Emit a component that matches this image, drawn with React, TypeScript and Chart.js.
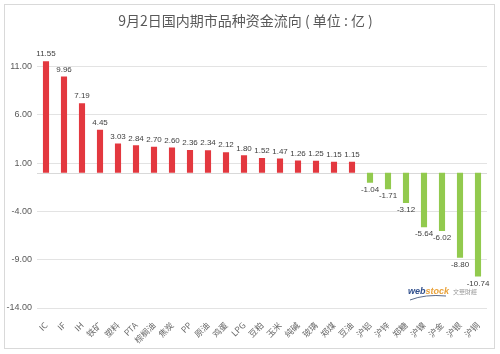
import React, { useEffect, useRef } from "react";
import { Chart, registerables } from "chart.js";

Chart.register(...registerables);

const TITLE = "9月2日国内期市品种资金流向 ( 单位 : 亿 )";
const categories = [
  "IC", "IF", "IH", "铁矿", "塑料", "PTA", "棕榈油", "焦炭", "PP", "原油", "鸡蛋", "LPG",
  "豆粕", "玉米", "纯碱", "玻璃", "郑煤", "豆油", "沪铝", "沪锌", "郑糖", "沪镍", "沪金", "沪银", "沪铜",
];
const values = [
  11.55, 9.96, 7.19, 4.45, 3.03, 2.84, 2.7, 2.6, 2.36, 2.34, 2.12, 1.8,
  1.52, 1.47, 1.26, 1.25, 1.15, 1.15, -1.04, -1.71, -3.12, -5.64, -6.02, -8.8, -10.74,
];
const yTicks = [-14, -9, -4, 1, 6, 11];

const RED = "#E3383F";
const GREEN = "#92CA4E";

export default function App() {
  const ref = useRef<HTMLCanvasElement | null>(null);
  useEffect(() => {
    const canvas = ref.current;
    if (!canvas) return;
    const labelPlugin = {
      id: "labels",
      beforeDatasetsDraw(chart: any) {
        const { ctx, chartArea, scales } = chart;
        const y0 = scales.y.getPixelForValue(0);
        ctx.save();
        ctx.strokeStyle = "#D9D9D9";
        ctx.lineWidth = 1;
        ctx.beginPath();
        ctx.moveTo(chartArea.left, Math.round(y0) + 0.5);
        ctx.lineTo(chartArea.right, Math.round(y0) + 0.5);
        ctx.stroke();
        ctx.restore();
      },
      afterDatasetsDraw(chart: any) {
        const { ctx } = chart;
        const meta = chart.getDatasetMeta(0);
        ctx.save();
        ctx.font = "8px 'Liberation Sans', sans-serif";
        ctx.fillStyle = "#404040";
        ctx.textAlign = "center";
        meta.data.forEach((bar: any, i: number) => {
          const v = values[i];
          const txt = v.toFixed(2);
          if (v >= 0) {
            ctx.textBaseline = "bottom";
            ctx.fillText(txt, bar.x, bar.y - 3);
          } else {
            ctx.textBaseline = "top";
            ctx.fillText(txt, bar.x, bar.y + 3);
          }
        });
        // watermark
        ctx.textAlign = "left";
        ctx.textBaseline = "alphabetic";
        ctx.font = "bold italic 9px 'Liberation Sans', sans-serif";
        ctx.fillStyle = "#2F4E8C";
        ctx.fillText("web", 408, 294);
        const w = ctx.measureText("web").width;
        ctx.fillStyle = "#E9A23B";
        ctx.fillText("stock", 408 + w, 294);
        const w2 = ctx.measureText("stock").width;
        ctx.font = "6px 'Noto Sans CJK SC', sans-serif";
        ctx.fillStyle = "#9A9A9A";
        ctx.fillText("文華財經", 412 + w + w2, 294);
        ctx.strokeStyle = "#5A6A8A";
        ctx.lineWidth = 1;
        ctx.beginPath();
        ctx.moveTo(410, 300);
        ctx.quadraticCurveTo(425, 294, 446, 296);
        ctx.stroke();
        ctx.restore();
      },
    };
    const chart = new Chart(canvas, {
      type: "bar",
      data: {
        labels: categories,
        datasets: [
          {
            data: values,
            backgroundColor: values.map((v) => (v >= 0 ? RED : GREEN)),
            barPercentage: 0.34,
            categoryPercentage: 1,
          },
        ],
      },
      options: {
        animation: false,
        responsive: false,
        maintainAspectRatio: false,
        layout: { padding: { left: 4, right: 13, top: 0, bottom: 4 } },
        plugins: {
          legend: { display: false },
          tooltip: { enabled: false },
          title: {
            display: true,
            text: TITLE,
            color: "#595959",
            font: { family: "'Noto Sans CJK SC', sans-serif", size: 14, weight: "normal" },
            padding: { top: 12, bottom: 28 },
          },
        },
        scales: {
          x: {
            grid: { display: false },
            border: { display: false },
            ticks: {
              autoSkip: false,
              maxRotation: 45,
              minRotation: 45,
              padding: 4,
              color: "#6A6A6A",
              font: { family: "'Noto Sans CJK SC', sans-serif", size: 8.5 },
            },
            afterFit(scale: any) {
              scale.height = 42;
            },
          },
          y: {
            min: -14,
            max: 12,
            border: { display: false },
            grid: { color: "#E3E3E3", drawTicks: false },
            afterBuildTicks(scale: any) {
              scale.ticks = yTicks.map((v) => ({ value: v }));
            },
            afterFit(scale: any) {
              scale.width = 33;
            },
            ticks: {
              padding: 5,
              color: "#595959",
              font: { family: "'Liberation Sans', sans-serif", size: 9 },
              callback: (v: any) => Number(v).toFixed(2),
            },
          },
        },
      },
      plugins: [labelPlugin],
    });
    return () => chart.destroy();
  }, []);
  return (
    <div style={{ position: "fixed", left: 0, top: 0, width: 500, height: 354, background: "#fff" }}>
      <div
        style={{
          position: "absolute",
          left: 4,
          top: 4,
          width: 491,
          height: 345,
          border: "1px solid #D9D9D9",
          boxSizing: "border-box",
        }}
      />
      <canvas ref={ref} width={500} height={354} style={{ position: "absolute", left: 0, top: 0 }} />
    </div>
  );
}
